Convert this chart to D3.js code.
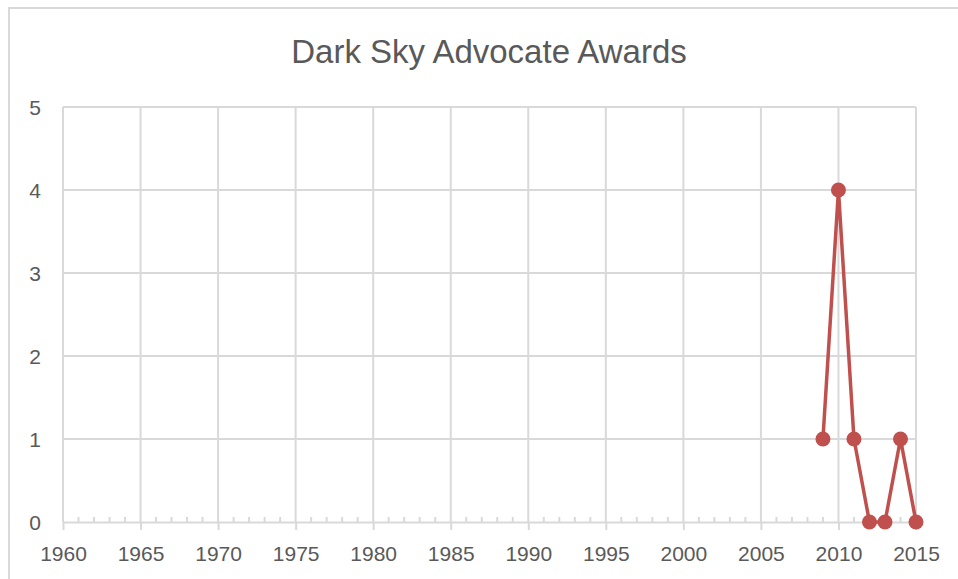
<!DOCTYPE html>
<html>
<head>
<meta charset="utf-8">
<script src="https://cdn.jsdelivr.net/npm/d3@7"></script>
<style>
  html, body { margin: 0; padding: 0; background: #fff; }
  svg { display: block; }
</style>
</head>
<body>
<svg id="chart" width="958" height="579"></svg>
<script>
const title = "Dark Sky Advocate Awards";
const years = [2009, 2010, 2011, 2012, 2013, 2014, 2015];
const awards = [1, 4, 1, 0, 0, 1, 0];
const xTicks = [1960, 1965, 1970, 1975, 1980, 1985, 1990, 1995, 2000, 2005, 2010, 2015];
const yTicks = [0, 1, 2, 3, 4, 5];

const svg = d3.select("#chart");
const W = 958, H = 579;
const m = { left: 63, right: 42, top: 107, bottom: 57 };
const gridColor = "#d9d9d9";
const textColor = "#595959";
const font = "'Liberation Sans', Arial, sans-serif";

// chart border
svg.append("rect")
  .attr("x", 9).attr("y", 8)
  .attr("width", W + 10).attr("height", H + 10)
  .attr("fill", "#fff").attr("stroke", gridColor).attr("stroke-width", 2);

const x = d3.scaleLinear().domain([1960, 2015]).range([m.left, W - m.right]);
const y = d3.scaleLinear().domain([0, 5]).range([H - m.bottom, m.top]);

// title
svg.append("text")
  .attr("x", 489).attr("y", 63)
  .attr("text-anchor", "middle")
  .attr("font-family", font).attr("font-size", 33)
  .attr("fill", textColor)
  .text(title);

// horizontal gridlines
svg.append("g")
  .selectAll("line").data(yTicks.filter(d => d > 0)).join("line")
  .attr("x1", x(1960)).attr("x2", x(2015))
  .attr("y1", d => y(d)).attr("y2", d => y(d))
  .attr("stroke", gridColor).attr("stroke-width", 2);

// vertical gridlines
svg.append("g")
  .selectAll("line").data(xTicks).join("line")
  .attr("x1", d => x(d)).attr("x2", d => x(d))
  .attr("y1", y(5)).attr("y2", y(0))
  .attr("stroke", gridColor).attr("stroke-width", 2);

// x axis: major ticks outside, minor ticks inside
const xAxisG = svg.append("g").attr("transform", `translate(0,${y(0)})`);
xAxisG.call(d3.axisBottom(x).tickValues(xTicks).tickSize(8).tickSizeOuter(0).tickFormat(d3.format("d")).tickPadding(16));
xAxisG.select(".domain").attr("stroke", gridColor).attr("stroke-width", 2);
xAxisG.selectAll(".tick line").attr("stroke", gridColor).attr("stroke-width", 2);
xAxisG.selectAll(".tick text")
  .attr("font-family", font).attr("font-size", 21).attr("fill", textColor);

const minor = d3.range(1960, 2016).filter(v => v % 5 !== 0);
xAxisG.append("g").selectAll("line").data(minor).join("line")
  .attr("x1", d => x(d)).attr("x2", d => x(d))
  .attr("y1", 0).attr("y2", -5)
  .attr("stroke", gridColor).attr("stroke-width", 2);

// y axis labels
const yAxisG = svg.append("g").attr("transform", `translate(${m.left},0)`);
yAxisG.call(d3.axisLeft(y).tickValues(yTicks).tickSize(0).tickPadding(22).tickFormat(d3.format("d")));
yAxisG.select(".domain").remove();
yAxisG.selectAll(".tick text")
  .attr("font-family", font).attr("font-size", 21).attr("fill", textColor)
  .attr("dy", "0.38em");

// series
const data = years.map((yr, i) => ({ yr, v: awards[i] }));
const color = "#c0504d";
svg.append("path")
  .datum(data)
  .attr("fill", "none").attr("stroke", color).attr("stroke-width", 3.5)
  .attr("stroke-linejoin", "round")
  .attr("d", d3.line().x(d => x(d.yr)).y(d => y(d.v)));

svg.append("g").selectAll("circle").data(data).join("circle")
  .attr("cx", d => x(d.yr)).attr("cy", d => y(d.v)).attr("r", 7.5)
  .attr("fill", color);
</script>
</body>
</html>
